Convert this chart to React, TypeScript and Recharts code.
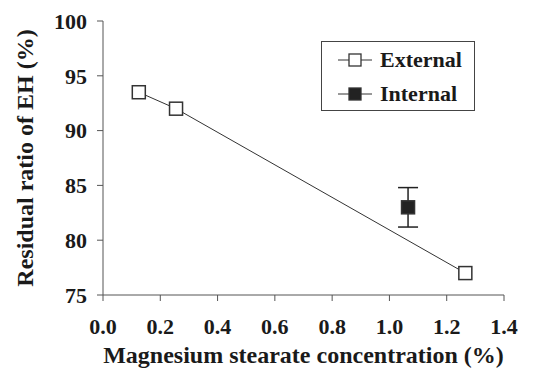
import React from "react";
import { ComposedChart, Scatter, XAxis, YAxis, ErrorBar } from "recharts";

const externalX = [0.125, 0.255, 1.265];
const externalY = [93.5, 92.0, 77.0];
const internalX = [1.065];
const internalY = [83.0];
const internalErr = [1.8];
const xTicks = [0, 0.2, 0.4, 0.6, 0.8, 1.0, 1.2, 1.4];
const yTicks = [75, 80, 85, 90, 95, 100];
const legendNames = ["External", "Internal"];

const externalData = externalX.map((x, i) => ({ x, y: externalY[i] }));
const internalData = internalX.map((x, i) => ({ x, y: internalY[i], err: internalErr[i] }));

const FONT = "'Liberation Serif', 'Times New Roman', serif";
const AXIS = "#555";
const TEXT = "#1a1a1a";

const Square = (props: any) => {
  const { cx, cy, fill } = props;
  if (cx == null || cy == null) return null;
  const s = 13;
  return <rect x={cx - s / 2} y={cy - s / 2} width={s} height={s} fill={fill} stroke="#333" strokeWidth={1.5} />;
};

const LegendBox = () => (
  <div
    style={{
      position: "absolute",
      left: 321,
      top: 41,
      border: "1.2px solid #444",
      background: "#fff",
      width: 154,
      height: 70,
      boxSizing: "border-box",
      fontFamily: FONT,
      fontWeight: "bold",
      fontSize: 22,
      color: TEXT,
      paddingTop: 1,
    }}
  >
    {legendNames.map((name, i) => (
      <div key={name} style={{ display: "flex", alignItems: "center", height: 34 }}>
        <svg width={58} height={20} style={{ flex: "none" }}>
          <line x1={16} y1={10} x2={50} y2={10} stroke="#333" strokeWidth={1} />
          <rect x={27} y={4} width={12} height={12} fill={i === 0 ? "#fff" : "#222"} stroke="#333" strokeWidth={1.3} />
        </svg>
        <span style={{ lineHeight: "22px" }}>{name}</span>
      </div>
    ))}
  </div>
);

export default function App() {
  return (
    <div style={{ position: "absolute", left: 0, top: 0, width: 534, height: 369 }}>
      <ComposedChart width={534} height={369} margin={{ top: 21, right: 30, bottom: 14, left: 43 }}>
        <XAxis
          type="number"
          dataKey="x"
          domain={[0, 1.4]}
          ticks={xTicks}
          tickFormatter={(v: number) => v.toFixed(1)}
          height={60}
          stroke={AXIS}
          tickSize={6}
          tickMargin={17}
          tick={{ fill: TEXT, fontFamily: FONT, fontWeight: "bold", fontSize: 22 }}
          label={(p: any) => {
            const vb = p.viewBox;
            return (
              <text x={vb.x + vb.width / 2} y={363} textAnchor="middle" fontFamily={FONT} fontWeight="bold" fontSize={24} fill={TEXT}>
                Magnesium stearate concentration (%)
              </text>
            );
          }}
        />
        <YAxis
          type="number"
          dataKey="y"
          domain={[75, 100]}
          ticks={yTicks}
          width={60}
          stroke={AXIS}
          tickSize={6}
          tickMargin={10}
          tick={{ fill: TEXT, fontFamily: FONT, fontWeight: "bold", fontSize: 22 }}
          label={(p: any) => {
            const vb = p.viewBox;
            const cy = vb.y + vb.height / 2;
            return (
              <text x={33} y={cy} transform={`rotate(-90, 33, ${cy})`} textAnchor="middle" fontFamily={FONT} fontWeight="bold" fontSize={24} fill={TEXT}>
                Residual ratio of EH (%)
              </text>
            );
          }}
        />
        <Scatter
          name="External"
          data={externalData}
          fill="#fff"
          line={{ stroke: "#333", strokeWidth: 1 }}
          shape={Square}
          isAnimationActive={false}
        />
        <Scatter name="Internal" data={internalData} fill="#222" shape={Square} isAnimationActive={false}>
          <ErrorBar dataKey="err" direction="y" width={10} stroke="#222" strokeWidth={1.5} />
        </Scatter>
      </ComposedChart>
      <LegendBox />
    </div>
  );
}
